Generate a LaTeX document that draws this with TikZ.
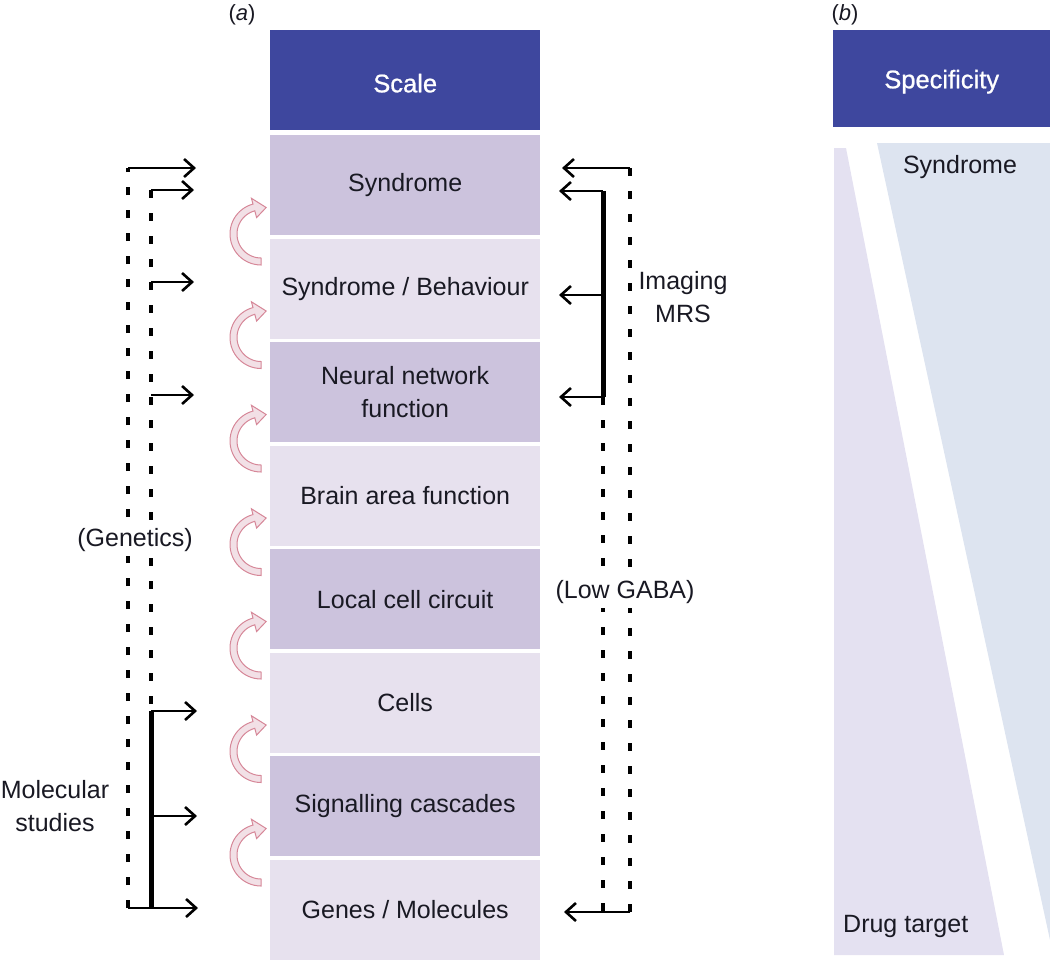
\documentclass[tikz,border=0pt]{standalone}
\usepackage{fontspec}
\setmainfont{Liberation Sans}
\newfontfamily\medfont[FakeBold=0.8]{Liberation Sans}
\usetikzlibrary{arrows.meta,calc}
\definecolor{hdr}{RGB}{62,71,158}
\definecolor{rowdark}{RGB}{204,195,221}
\definecolor{rowlight}{RGB}{231,225,238}
\definecolor{wedgeL}{RGB}{228,225,241}
\definecolor{wedgeB}{RGB}{221,228,240}
\definecolor{curlfill}{RGB}{242,224,230}
\definecolor{curlline}{RGB}{214,135,152}
\definecolor{txt}{RGB}{25,25,35}
\begin{document}
\begin{tikzpicture}[x=1pt,y=-1pt,
  every node/.style={font=\fontsize{25}{30}\selectfont, text=txt, inner sep=0pt},
  hdrbox/.style={rectangle, fill=hdr, anchor=north west, minimum height=100pt, minimum width=270pt},
  hdrtext/.style={text=white, font=\fontsize{25.5}{30}\selectfont\medfont},
  rowbox/.style={rectangle, anchor=north west, minimum width=270pt, minimum height=100pt, align=center},
  darkrow/.style={rowbox, fill=rowdark},
  lightrow/.style={rowbox, fill=rowlight},
  conn/.style={line width=2.6pt, -{Straight Barb[length=10pt,width=18pt,line width=2.6pt]}},
  dashline/.style={line width=3.6pt, dash pattern=on 8pt off 15pt},
  bar/.style={line width=5pt},
  gaplabel/.style={fill=white, inner sep=4pt},
  curl/.pic={
    \filldraw[fill=curlfill, draw=curlline, line width=1pt]
      plot[domain=90:255,samples=30] ({31*cos(\x)},{31*sin(\x)})
      -- (255:37) -- (281:27) -- (255:17)
      -- plot[domain=255:90,samples=30] ({24*cos(\x)},{24*sin(\x)}) -- cycle;
  }]
\useasboundingbox (0,0) rectangle (1050,959);

% ---------- panel (a)
\node[font=\fontsize{22}{26}\selectfont] (la) at (242,15) {(\textit{a})};
\node[hdrbox] (scale) at (270,30) {};
\node[hdrtext] (scalet) at ($(scale.center)+(0,3)$) {Scale};
\node[darkrow]  (r1) at (270,135)   {Syndrome};
\node[lightrow] (r2) at (270,238.5) {Syndrome / Behaviour};
\node[darkrow]  (r3) at (270,342)   {Neural network\\[3pt]function};
\node[lightrow] (r4) at (270,445.5) {Brain area function};
\node[darkrow]  (r5) at (270,549)   {Local cell circuit};
\node[lightrow] (r6) at (270,652.5) {Cells};
\node[darkrow]  (r7) at (270,756)   {Signalling cascades};
\node[lightrow] (r8) at (270,859.5) {Genes / Molecules};

% curved arrows between levels
\foreach \c in {234,337.5,441,544.5,648,751.5,855}
  \pic at (261,\c) {curl};

% ---------- left brackets
\coordinate (gOtop) at (128,168);
\coordinate (gObot) at (128,908);
\coordinate (gI1) at (151,190);
\coordinate (gI2) at (151,282);
\coordinate (gI3) at (151,395);
\coordinate (mTop) at (151,711);
\coordinate (mMid) at (151,816);
\coordinate (mBot) at (151,908);
\coordinate (tA1) at (196,168);
\coordinate (tA2) at (194,190);
\coordinate (tA3) at (194,282);
\coordinate (tA4) at (194,395);
\coordinate (tM1) at (197,711);
\coordinate (tM2) at (197,816);
\coordinate (tM3) at (198,908);

\draw[dashline] (gObot) -- (gOtop);
\draw[dashline] (gI1) -- (mTop);
\draw[bar] (mTop) -- (mBot);
\draw[conn] (gOtop) -- (tA1);
\draw[conn] (gI1) -- (tA2);
\draw[conn] (gI2) -- (tA3);
\draw[conn] (gI3) -- (tA4);
\draw[conn] (mTop) -- (tM1);
\draw[conn] (mMid) -- (tM2);
\draw[conn] (gObot) -- (tM3);

\node[gaplabel] (gen) at (135,540) {(Genetics)};
\node[align=center] (mol) at (55,806) {Molecular\\[3pt]studies};

% ---------- right brackets
\coordinate (rOtop) at (630,168);
\coordinate (rObot) at (630,912);
\coordinate (iTop) at (603,191);
\coordinate (iMid) at (603,295);
\coordinate (iBot) at (603,397);
\coordinate (iEnd) at (603,912);
\coordinate (sR1) at (562,168);
\coordinate (sR2) at (559,191);
\coordinate (sR3) at (559,295);
\coordinate (sR4) at (559,397);
\coordinate (sR5) at (564,912);

\draw[dashline] (rOtop) -- (rObot);
\draw[dashline] (iBot) -- (iEnd);
\draw[bar] (iTop) -- (iBot);
\draw[conn] (rOtop) -- (sR1);
\draw[conn] (iTop) -- (sR2);
\draw[conn] (iMid) -- (sR3);
\draw[conn] (iBot) -- (sR4);
\draw[conn] (rObot) -- (sR5);

\node[align=center] (img) at (683,297) {Imaging\\[3pt]MRS};
\node[gaplabel] (gaba) at (625,592) {(Low GABA)};

% ---------- panel (b)
\node[font=\fontsize{22}{26}\selectfont] (lb) at (845,15) {(\textit{b})};
\node[hdrbox, minimum width=217pt, minimum height=97pt] (spec) at (833,30) {};
\node[hdrtext] (spect) at ($(spec.center)+(0,3)$) {Specificity};
\fill[wedgeL] (834,148) -- (846,148) -- (1004,955) -- (834,955) -- cycle;
\fill[wedgeB] (877,143) -- (1050,143) -- (1050,940) -- cycle;
\node (syn) at (960,167) {Syndrome};
\node[anchor=west] (drug) at (843,926) {Drug target};
\end{tikzpicture}
\end{document}
